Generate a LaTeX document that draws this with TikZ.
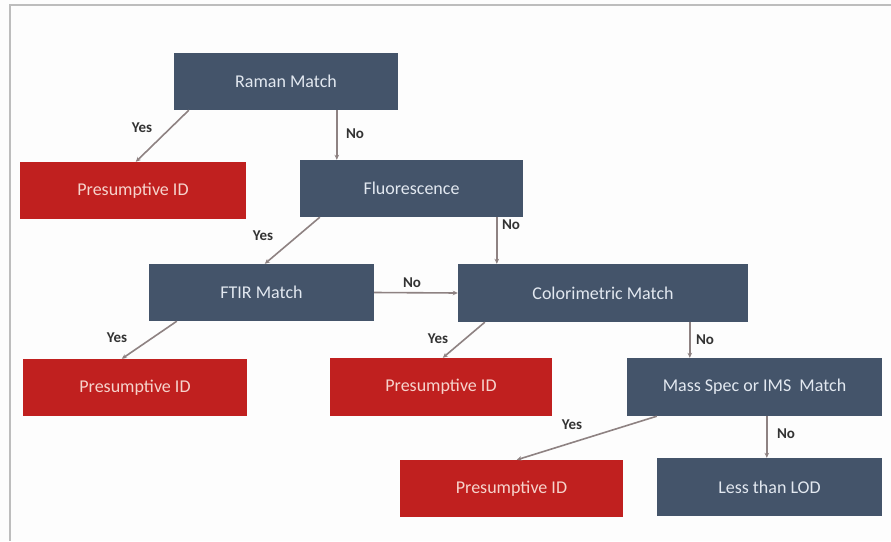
\documentclass[tikz,border=0pt]{standalone}
\usepackage{fontspec}
\setmainfont{Carlito}
\usetikzlibrary{arrows.meta}
\definecolor{boxblue}{HTML}{44546A}
\definecolor{boxred}{HTML}{C0201F}
\definecolor{bluetext}{HTML}{E2E8F0}
\definecolor{redtext}{HTML}{F6D3CC}
\definecolor{conncol}{HTML}{8E8282}
\definecolor{labcol}{HTML}{333333}
\definecolor{framecol}{HTML}{BDBDBD}
\definecolor{bgcol}{HTML}{FDFDFD}
\tikzset{
  stepbox/.style={rectangle, fill=boxblue, text=bluetext, font=\fontsize{18}{20}\selectfont, inner sep=0pt},
  idbox/.style={rectangle, fill=boxred, text=redtext, font=\fontsize{18}{20}\selectfont, inner sep=0pt},
  conn/.style={draw=conncol, line width=1.6pt, -{Stealth[length=5pt,width=4.5pt]}},
  lab/.style={text=labcol, font=\bfseries\fontsize{15}{17}\selectfont, inner sep=0pt},
  framel/.style={draw=framecol, line width=1.5pt}
}
\begin{document}
\begin{tikzpicture}[x=1pt,y=-1pt]
\fill[bgcol] (0,0) rectangle (891,541);
\useasboundingbox (0,0) rectangle (891,541);
\coordinate (ftl) at (10,5);
\coordinate (ftr) at (891,5);
\coordinate (fbl) at (10,541);
\draw[framel] (ftr) -- (ftl) -- (fbl);

\node[stepbox, minimum width=224pt, minimum height=57pt] (raman) at (286,81.5) {Raman Match};
\node[idbox, minimum width=226pt, minimum height=57pt] (pid1) at (133,190.5) {Presumptive ID};
\node[stepbox, minimum width=223pt, minimum height=57pt] (fluor) at (411.5,188.5) {Fluorescence};
\node[stepbox, minimum width=225pt, minimum height=57pt] (ftir) at (261.5,292.5) {FTIR Match};
\node[stepbox, minimum width=290pt, minimum height=58pt] (color) at (603,293) {Colorimetric Match};
\node[idbox, minimum width=224pt, minimum height=57pt] (pid2) at (135,387.5) {Presumptive ID};
\node[idbox, minimum width=222pt, minimum height=58pt] (pid3) at (441,387) {Presumptive ID};
\node[stepbox, minimum width=255pt, minimum height=58pt] (mass) at (754.5,387) {Mass Spec or IMS\ \ Match};
\node[idbox, minimum width=223pt, minimum height=57pt] (pid4) at (511.5,488.5) {Presumptive ID};
\node[stepbox, minimum width=225pt, minimum height=58pt] (lod) at (769.5,487) {Less than LOD};

\draw[conn] ([xshift=15pt]raman.south west) -- ([xshift=116pt]pid1.north west);
\draw[conn] ([xshift=163pt]raman.south west) -- ([xshift=37pt]fluor.north west);
\draw[conn] ([xshift=20pt]fluor.south west) -- ([xshift=116pt]ftir.north west);
\draw[conn] ([xshift=197pt]fluor.south west) -- ([xshift=39pt]color.north west);
\draw[conn] (ftir.east) -- (color.west);
\draw[conn] ([xshift=28pt]ftir.south west) -- ([xshift=99pt]pid2.north west);
\draw[conn] ([xshift=27pt]color.south west) -- ([xshift=113pt]pid3.north west);
\draw[conn] ([xshift=232pt]color.south west) -- ([xshift=63pt]mass.north west);
\draw[conn] ([xshift=30pt]mass.south west) -- ([xshift=117pt]pid4.north west);
\draw[conn] ([xshift=140pt]mass.south west) -- ([xshift=110pt]lod.north west);

\node[lab] (l1) at (142,128) {Yes};
\node[lab] (l2) at (355,134) {No};
\node[lab] (l3) at (263,236) {Yes};
\node[lab] (l4) at (511,225) {No};
\node[lab] (l5) at (412,283) {No};
\node[lab] (l6) at (117,338) {Yes};
\node[lab] (l7) at (438,339) {Yes};
\node[lab] (l8) at (705,340) {No};
\node[lab] (l9) at (572,425) {Yes};
\node[lab] (l10) at (786,434) {No};
\end{tikzpicture}
\end{document}
